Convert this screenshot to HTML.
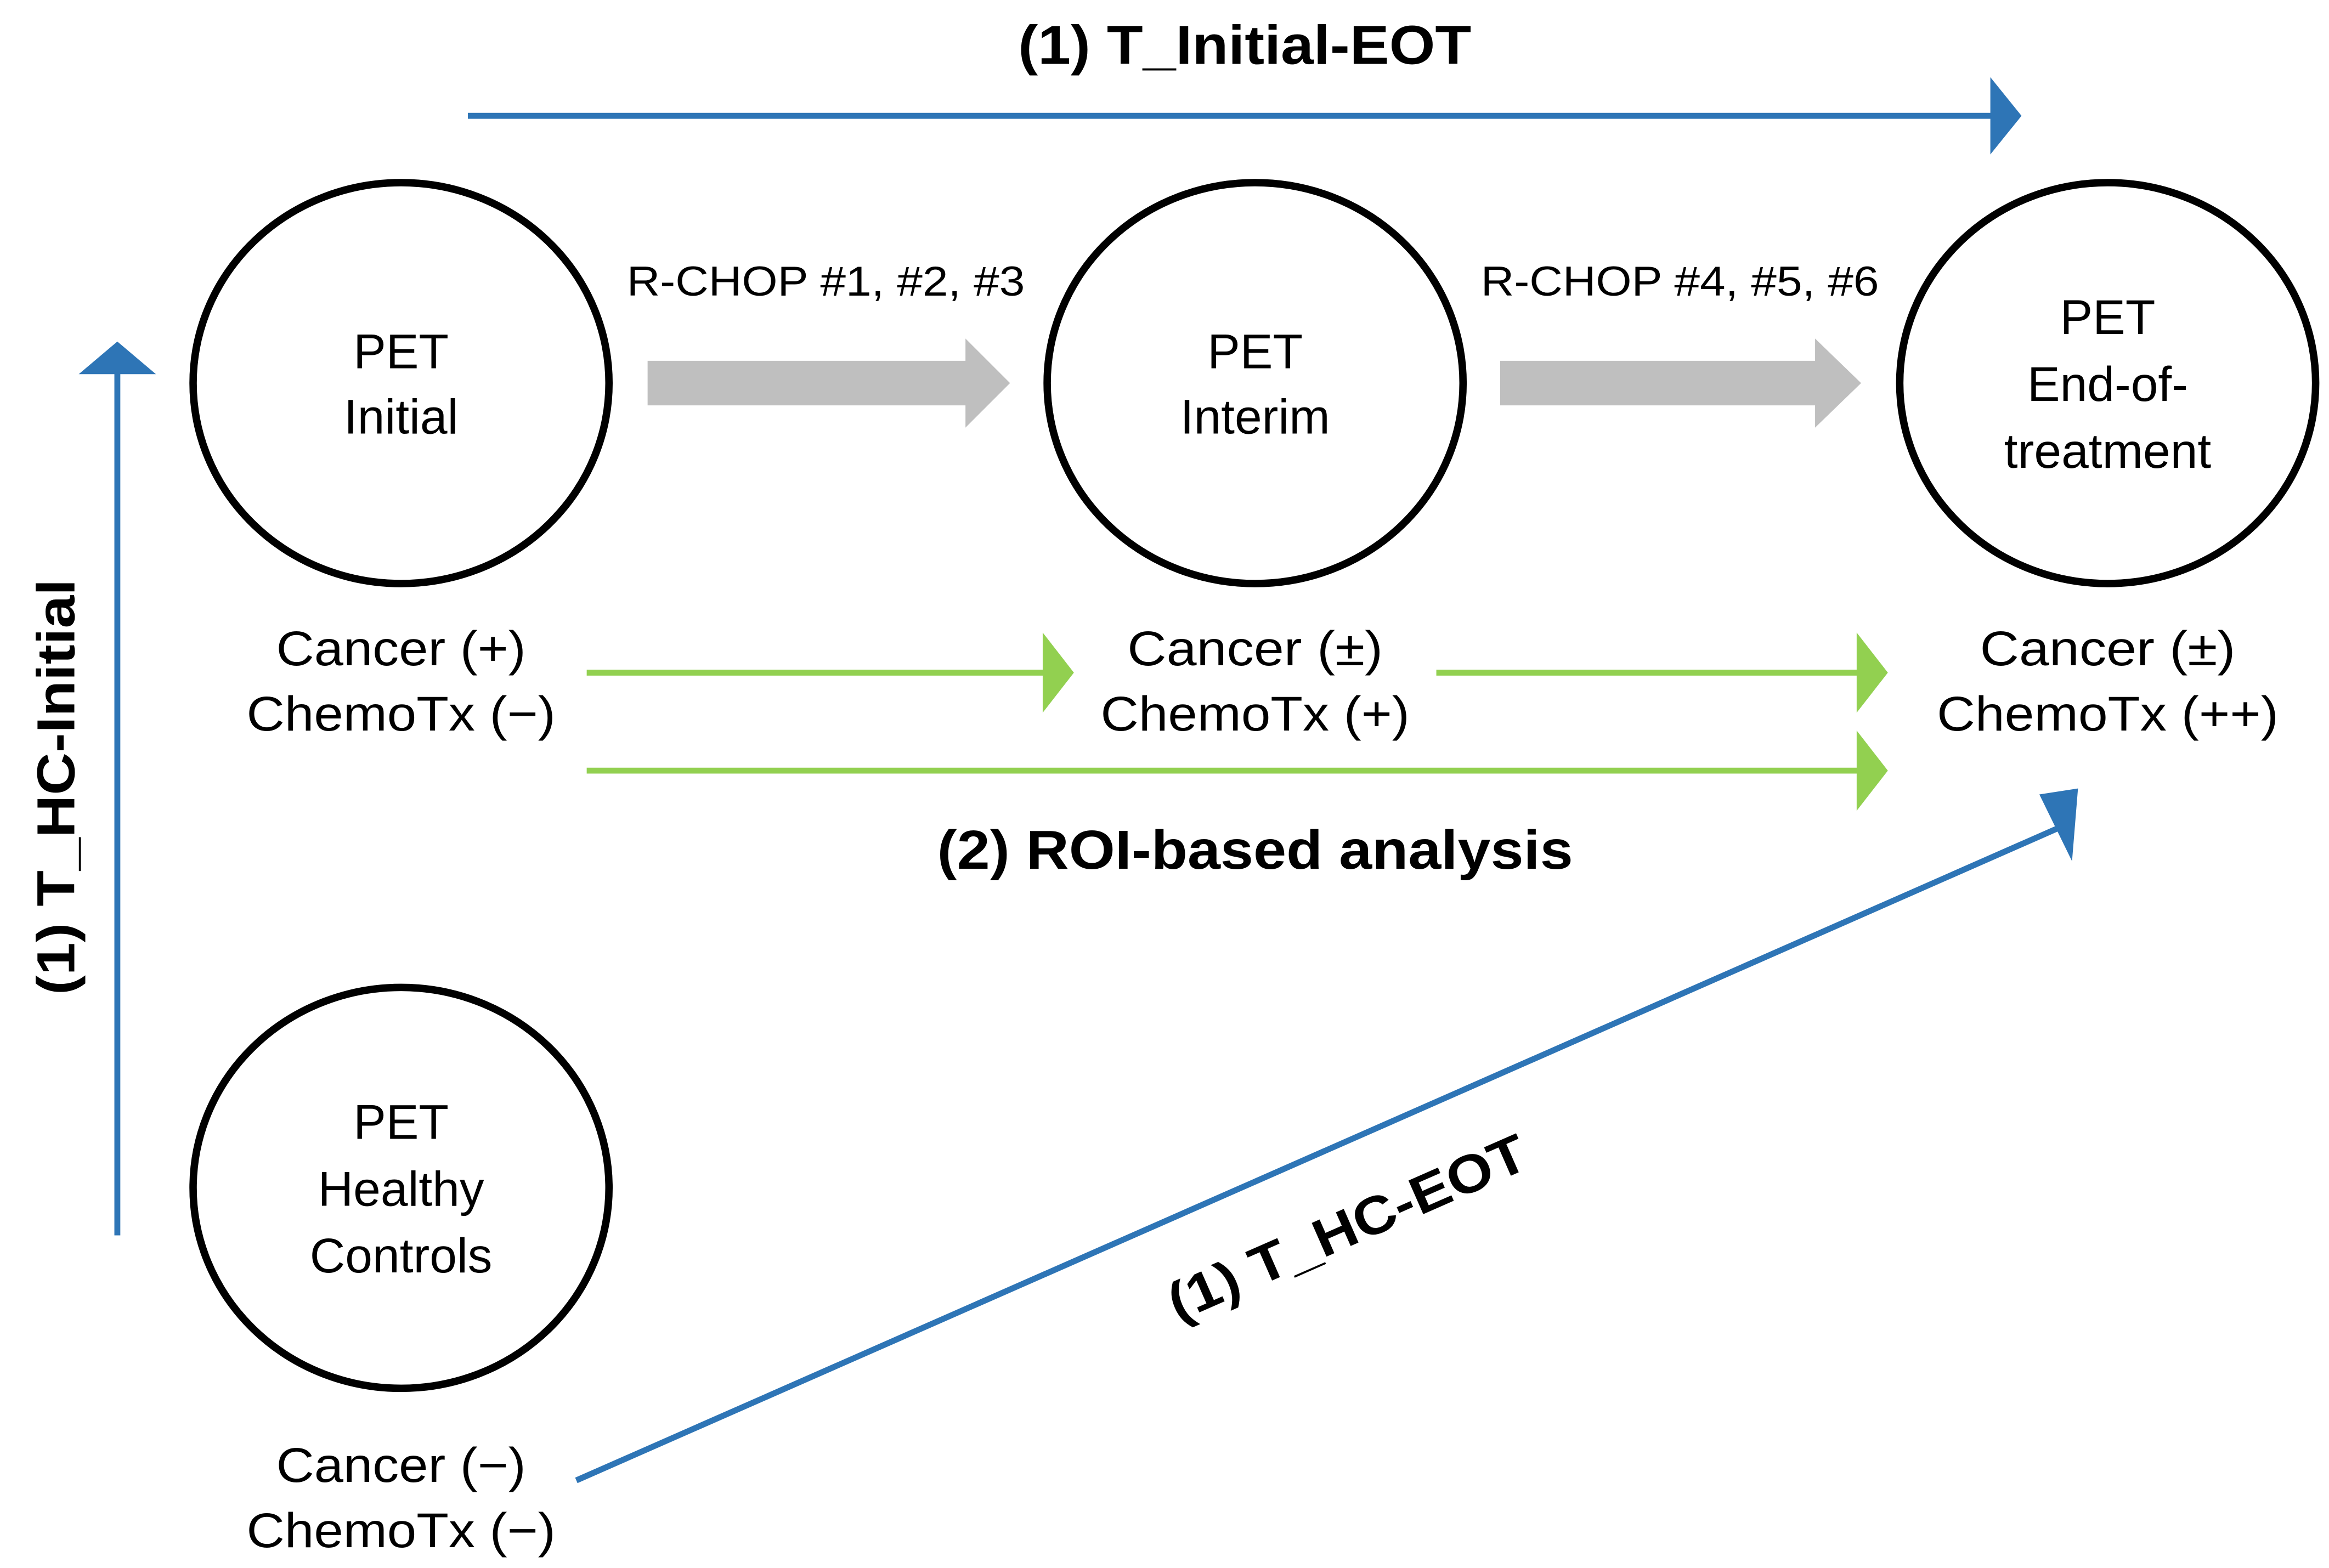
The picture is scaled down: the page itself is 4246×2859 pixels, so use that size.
<!DOCTYPE html>
<html><head><style>html,body{margin:0;padding:0;background:#fff}svg{display:block}</style></head><body>
<svg width="4246" height="2859" viewBox="0 0 1568 1056" preserveAspectRatio="none" xmlns="http://www.w3.org/2000/svg" font-family="Liberation Sans, Arial, sans-serif">
<g fill="none" stroke="#000" stroke-width="5">
<ellipse cx="270" cy="258" rx="140" ry="135"/>
<ellipse cx="845" cy="258" rx="140" ry="135"/>
<ellipse cx="1419" cy="258" rx="140" ry="135"/>
<ellipse cx="270" cy="800" rx="140" ry="135"/>
</g>
<line x1="315" y1="78" x2="1345" y2="78" stroke="#2e75b6" stroke-width="4"/>
<polygon points="1340,52 1361,78 1340,104" fill="#2e75b6"/>
<line x1="79" y1="832" x2="79" y2="248" stroke="#2e75b6" stroke-width="4"/>
<polygon points="53,252 79,230 105,252" fill="#2e75b6"/>
<line x1="388" y1="997" x2="1385" y2="558" stroke="#2e75b6" stroke-width="4"/>
<polygon points="1373,535 1399,531 1395,580" fill="#2e75b6"/>
<polygon points="436,243 650,243 650,228 680,258 650,288 650,273 436,273" fill="#bfbfbf"/>
<polygon points="1010,243 1222,243 1222,228 1253,258 1222,288 1222,273 1010,273" fill="#bfbfbf"/>
<g stroke="#92d050" stroke-width="4"><line x1="395" y1="453" x2="705" y2="453"/><line x1="967" y1="453" x2="1255" y2="453"/><line x1="395" y1="519" x2="1255" y2="519"/></g>
<g fill="#92d050"><polygon points="702,426 723,453 702,480"/><polygon points="1250,426 1271,453 1250,480"/><polygon points="1250,492 1271,519 1250,546"/></g>
<g text-anchor="middle" fill="#000">
<text x="838" y="43" font-size="37" font-weight="bold" textLength="305" lengthAdjust="spacingAndGlyphs">(1) T_Initial-EOT</text>
<text x="845" y="585" font-size="37" font-weight="bold" textLength="428" lengthAdjust="spacingAndGlyphs">(2) ROI-based analysis</text>
<text x="556" y="199" font-size="28" textLength="268" lengthAdjust="spacingAndGlyphs">R-CHOP #1, #2, #3</text>
<text x="1131" y="199" font-size="28" textLength="268" lengthAdjust="spacingAndGlyphs">R-CHOP #4, #5, #6</text>
<g font-size="33">
<text x="270" y="248">PET</text><text x="270" y="292">Initial</text>
<text x="845" y="248">PET</text><text x="845" y="292">Interim</text>
<text x="1419" y="225">PET</text><text x="1419" y="270">End-of-</text><text x="1419" y="315">treatment</text>
<text x="270" y="767">PET</text><text x="270" y="812">Healthy</text><text x="270" y="857">Controls</text>
<text x="270" y="448" textLength="168" lengthAdjust="spacingAndGlyphs">Cancer (+)</text><text x="270" y="492" textLength="208" lengthAdjust="spacingAndGlyphs">ChemoTx (−)</text>
<text x="845" y="448" textLength="172" lengthAdjust="spacingAndGlyphs">Cancer (±)</text><text x="845" y="492" textLength="208" lengthAdjust="spacingAndGlyphs">ChemoTx (+)</text>
<text x="1419" y="448" textLength="172" lengthAdjust="spacingAndGlyphs">Cancer (±)</text><text x="1419" y="492" textLength="230" lengthAdjust="spacingAndGlyphs">ChemoTx (++)</text>
<text x="270" y="998" textLength="168" lengthAdjust="spacingAndGlyphs">Cancer (−)</text><text x="270" y="1042" textLength="208" lengthAdjust="spacingAndGlyphs">ChemoTx (−)</text>
</g>
<text transform="translate(50,530) rotate(-90)" font-size="36" font-weight="bold" textLength="280" lengthAdjust="spacingAndGlyphs">(1) T_HC-Initial</text>
<text transform="translate(912,838) rotate(-23.7)" font-size="36" font-weight="bold" textLength="260" lengthAdjust="spacingAndGlyphs">(1) T_HC-EOT</text>
</g>
</svg>
</body></html>
